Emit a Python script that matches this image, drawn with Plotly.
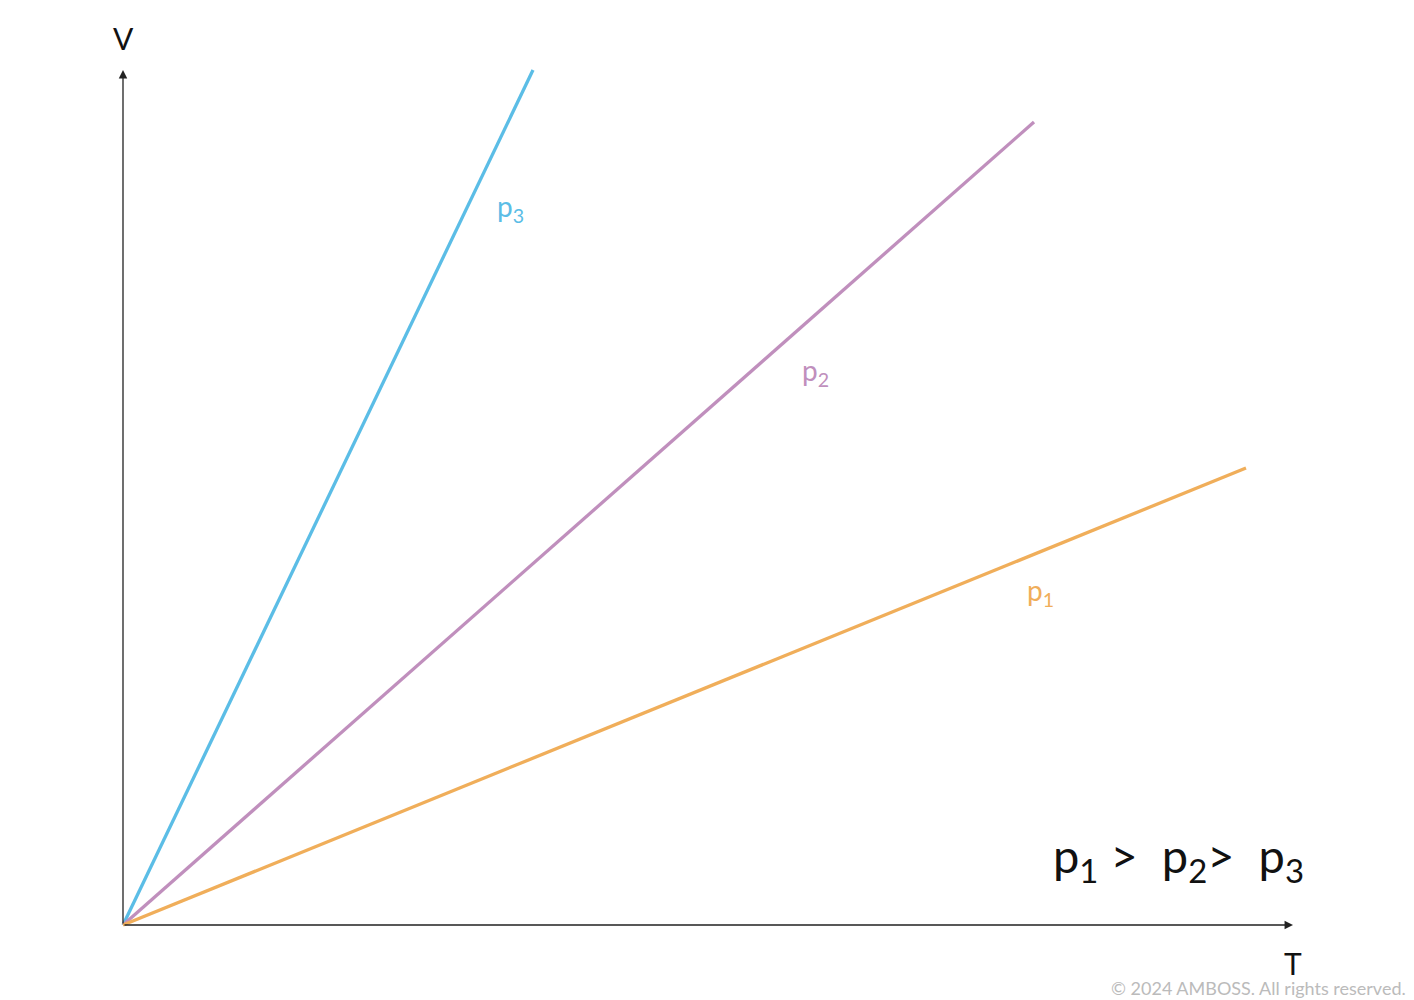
import plotly.graph_objects as go

# Data (T, V in arbitrary units)
series_names = ["p3", "p2", "p1"]
series_labels = ["p<sub>3</sub>", "p<sub>2</sub>", "p<sub>1</sub>"]
T_end = [4.10, 9.11, 11.23]
V_end = [8.55, 8.03, 4.57]
label_T = [3.87, 6.92, 9.17]
label_V = [7.17, 5.53, 3.33]
colors = ["#5bbde6", "#c08fbd", "#f0ae5a"]

T_axis_max = 11.70
V_axis_max = 8.55

fig = go.Figure()
for name, te, ve, c in zip(series_names, T_end, V_end, colors):
    fig.add_trace(go.Scatter(x=[0, te], y=[0, ve], mode="lines", name=name,
                             line=dict(color=c, width=3.3), showlegend=False,
                             hoverinfo="skip"))

font = "Lato, 'Open Sans', sans-serif"
ann = []
# axes arrows
ann.append(dict(x=T_axis_max, y=0, ax=0, ay=0, xref="x", yref="y", axref="x", ayref="y",
                text="", showarrow=True, arrowhead=2, arrowsize=1.3, arrowwidth=1.3,
                arrowcolor="#222222"))
ann.append(dict(x=0, y=V_axis_max, ax=0, ay=0, xref="x", yref="y", axref="x", ayref="y",
                text="", showarrow=True, arrowhead=2, arrowsize=1.3, arrowwidth=1.3,
                arrowcolor="#222222"))
ann.append(dict(x=0, y=8.87, text="V", showarrow=False, font=dict(family=font, size=30, color="#111")))
ann.append(dict(x=T_axis_max, y=-0.38, text="T", showarrow=False, font=dict(family=font, size=30, color="#111")))
for lab, lt, lv, c in zip(series_labels, label_T, label_V, colors):
    ann.append(dict(x=lt, y=lv, text=lab, showarrow=False, font=dict(family=font, size=28, color=c)))
ann.append(dict(x=10.55, y=0.67, text="p<sub>1</sub> >  p<sub>2</sub>>  p<sub>3</sub>", showarrow=False,
                font=dict(family=font, size=47, color="#111")))
ann.append(dict(x=0.99, y=0.02, xref="paper", yref="paper", xanchor="right", yanchor="middle",
                text="© 2024 AMBOSS. All rights reserved.", showarrow=False,
                font=dict(family=font, size=18, color="#bbbbbb")))

fig.update_layout(
    width=1414, height=1000,
    margin=dict(l=0, r=0, t=0, b=0),
    paper_bgcolor="white", plot_bgcolor="white",
    xaxis=dict(range=[-1.15, 12.99], visible=False, fixedrange=True),
    yaxis=dict(range=[-0.83, 9.17], visible=False, fixedrange=True),
    annotations=ann,
)
fig.write_html("out.html", config={"displayModeBar": False})
